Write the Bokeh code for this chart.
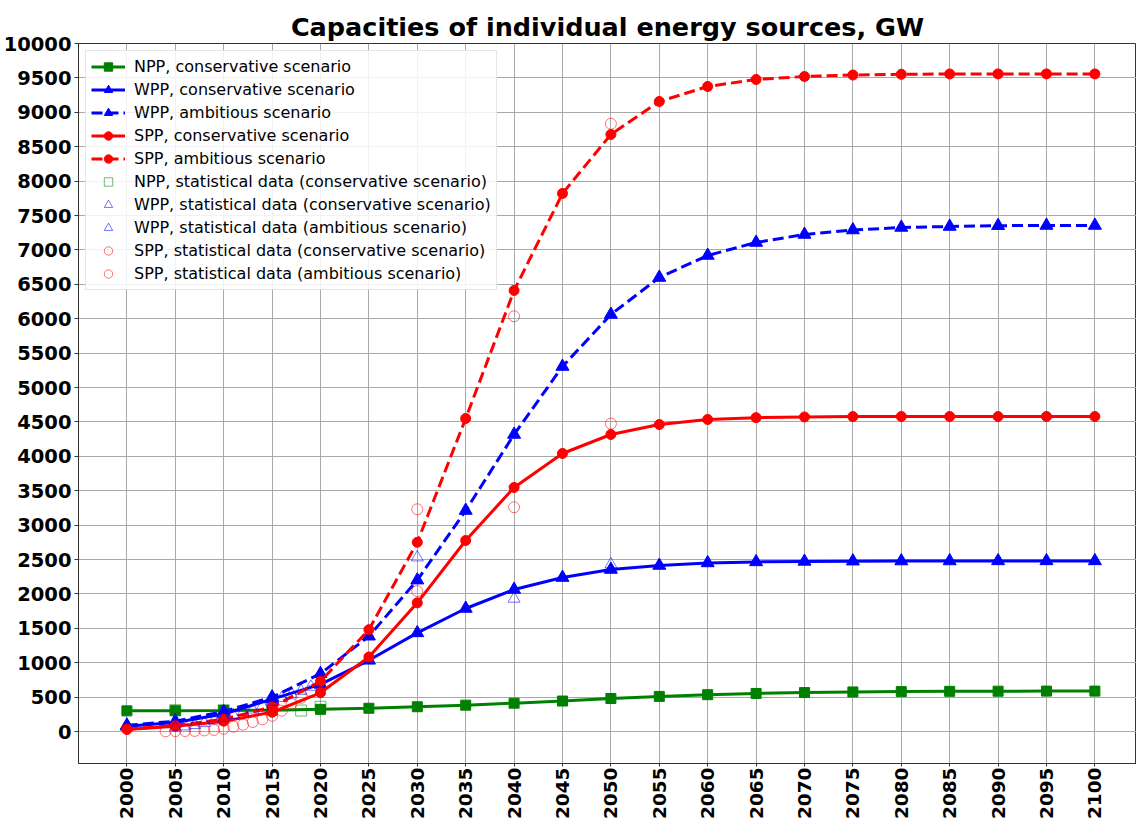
import math
from bokeh.plotting import figure
from bokeh.models import (ColumnDataSource, Legend, LegendItem, FixedTicker, Range1d)
from bokeh.embed import file_html
from bokeh.resources import INLINE

# ---------------- data ----------------
years = [2000, 2005, 2010, 2015, 2020, 2025, 2030, 2035, 2040, 2045, 2050,
         2055, 2060, 2065, 2070, 2075, 2080, 2085, 2090, 2095, 2100]

npp_cons = [300, 302, 305, 310, 322, 338, 360, 383, 412, 443, 480,
            510, 535, 553, 566, 575, 580, 584, 586, 587, 587]
wpp_cons = [75, 130, 255, 470, 685, 1035, 1433, 1788, 2064, 2238, 2355,
            2413, 2450, 2465, 2472, 2476, 2478, 2479, 2480, 2480, 2480]
wpp_amb = [90, 150, 290, 500, 840, 1385, 2200, 3212, 4317, 5305, 6061,
           6599, 6919, 7108, 7224, 7289, 7326, 7340, 7352, 7355, 7355]
spp_cons = [30, 75, 150, 280, 563, 1083, 1870, 2776, 3547, 4041, 4317,
            4462, 4535, 4562, 4572, 4577, 4578, 4578, 4578, 4578, 4578]
spp_amb = [35, 85, 180, 355, 730, 1480, 2750, 4549, 6410, 7820, 8677,
           9157, 9375, 9477, 9520, 9542, 9552, 9557, 9558, 9558, 9558]

# statistical data
npp_stat_years = [2005, 2010, 2018, 2020]
npp_stat_cons = [310, 310, 305, 360]

wpp_stat_cons_years = [2005, 2006, 2007, 2008, 2009, 2010, 2011, 2012, 2013,
                       2014, 2015, 2016, 2017, 2018, 2019, 2040, 2050]
wpp_stat_cons = [59, 74, 94, 121, 159, 198, 238, 283, 319, 370, 433, 487,
                 540, 591, 650, 1930, 2430]
wpp_stat_amb_years = [2030]
wpp_stat_amb = [2530]

spp_stat_cons_years = [2004, 2005, 2006, 2007, 2008, 2009, 2010, 2011, 2012,
                       2013, 2014, 2015, 2016, 2017, 2018, 2019, 2030, 2040, 2050]
spp_stat_cons = [3, 5, 7, 9, 16, 23, 40, 70, 100, 138, 177, 228, 303, 400,
                 490, 590, 2040, 3260, 4475]
spp_stat_amb_years = [2030, 2040, 2050]
spp_stat_amb = [3230, 6035, 8833]

y_ticks = list(range(0, 10001, 500))
x_ticks = years

GREEN = "#008000"
BLUE = "#0000ff"
RED = "#ff0000"
DASH = "11 5"
NAN = float("nan")

p = figure(frame_width=1058, frame_height=720,
           x_range=Range1d(1995, 2104.3), y_range=Range1d(-465, 10000),
           output_backend="svg", toolbar_location=None,
           min_border_left=76, min_border_top=43, min_border_right=0,
           min_border_bottom=0, background_fill_color="white",
           border_fill_color="white")

p.title.text = "Capacities of individual energy sources, GW"
p.title.text_font = "DejaVu Sans"
p.title.text_font_size = "25.5px"
p.title.text_font_style = "bold"
p.title.align = "center"
p.title.text_color = "black"
p.title.standoff = 4

for ax in (p.xaxis[0], p.yaxis[0]):
    ax.major_label_text_font = "DejaVu Sans"
    ax.major_label_text_font_style = "bold"
    ax.major_label_text_color = "black"
    ax.minor_tick_line_color = None
    ax.major_tick_in = 0
    ax.major_tick_line_color = "#333333"
    ax.axis_line_color = "#333333"

p.yaxis.major_label_text_font_size = "19.5px"
p.yaxis.major_tick_out = 4
p.yaxis.major_label_standoff = 3
p.xaxis.major_label_text_font_size = "18.5px"
p.xaxis.major_tick_out = 3
p.xaxis.major_label_standoff = 1

p.xaxis.ticker = FixedTicker(ticks=x_ticks)
p.yaxis.ticker = FixedTicker(ticks=y_ticks)
p.xaxis.major_label_orientation = math.pi / 2
p.xgrid.ticker = FixedTicker(ticks=x_ticks)
p.ygrid.ticker = FixedTicker(ticks=y_ticks)
p.xgrid.grid_line_color = "#a8a8a8"
p.ygrid.grid_line_color = "#a8a8a8"
p.outline_line_color = "#333333"

try:
    from bokeh.models import Spline
    HAVE_SPLINE = True
except Exception:
    HAVE_SPLINE = False


def curve(xs, ys, color, dash):
    src = ColumnDataSource(dict(x=xs, y=ys))
    if HAVE_SPLINE:
        g = Spline(x="x", y="y", line_color=color, line_width=3,
                   line_dash=dash)
        p.add_glyph(src, g)
    else:
        p.line("x", "y", source=src, line_color=color, line_width=3,
               line_dash=dash)


series = [
    (npp_cons, GREEN, "solid", "square", 10),
    (wpp_cons, BLUE, "solid", "triangle", 13),
    (wpp_amb, BLUE, DASH, "triangle", 13),
    (spp_cons, RED, "solid", "circle", 10),
    (spp_amb, RED, DASH, "circle", 10),
]
for ys, col, dash, mk, sz in series:
    curve(years, ys, col, dash)
    p.scatter(years, ys, marker=mk, size=sz, fill_color=col, line_color=col)

stats = [
    (npp_stat_years, npp_stat_cons, GREEN, "square", 11),
    (wpp_stat_cons_years, wpp_stat_cons, BLUE, "triangle", 12),
    (wpp_stat_amb_years, wpp_stat_amb, BLUE, "triangle", 12),
    (spp_stat_cons_years, spp_stat_cons, RED, "circle", 11),
    (spp_stat_amb_years, spp_stat_amb, RED, "circle", 11),
]
stat_r = []
for xs, ys, col, mk, sz in stats:
    r = p.scatter(xs, ys, marker=mk, size=sz, fill_color=None,
                  line_color=col, line_alpha=0.55, line_width=1)
    stat_r.append(r)

# legend proxies (single NaN point, never visible in the plot)
items = []
labels = ["NPP, conservative scenario", "WPP, conservative scenario",
          "WPP, ambitious scenario", "SPP, conservative scenario",
          "SPP, ambitious scenario"]
for lab, (ys, col, dash, mk, sz) in zip(labels, series):
    lr = p.line(x=[NAN], y=[NAN], line_color=col, line_width=3, line_dash=dash)
    sr = p.scatter(x=[NAN], y=[NAN], marker=mk, size=sz - 1, fill_color=col,
                   line_color=col)
    items.append(LegendItem(label=lab, renderers=[lr, sr]))
stat_labels = ["NPP, statistical data (conservative scenario)",
               "WPP, statistical data (conservative scenario)",
               "WPP, statistical data (ambitious scenario)",
               "SPP, statistical data (conservative scenario)",
               "SPP, statistical data (ambitious scenario)"]
for lab, r in zip(stat_labels, stat_r):
    items.append(LegendItem(label=lab, renderers=[r]))

legend = Legend(items=items, location="top_left")
legend.label_text_font = "DejaVu Sans"
legend.label_text_font_size = "16px"
legend.label_text_color = "black"
legend.glyph_width = 34
legend.glyph_height = 21
legend.label_height = 21
legend.spacing = 2
legend.label_standoff = 9
legend.padding = 5
legend.margin = 7
legend.border_line_color = "#cccccc"
legend.border_line_width = 1
legend.background_fill_alpha = 0.85
p.add_layout(legend)

open("out.html", "w").write(file_html(p, INLINE))
